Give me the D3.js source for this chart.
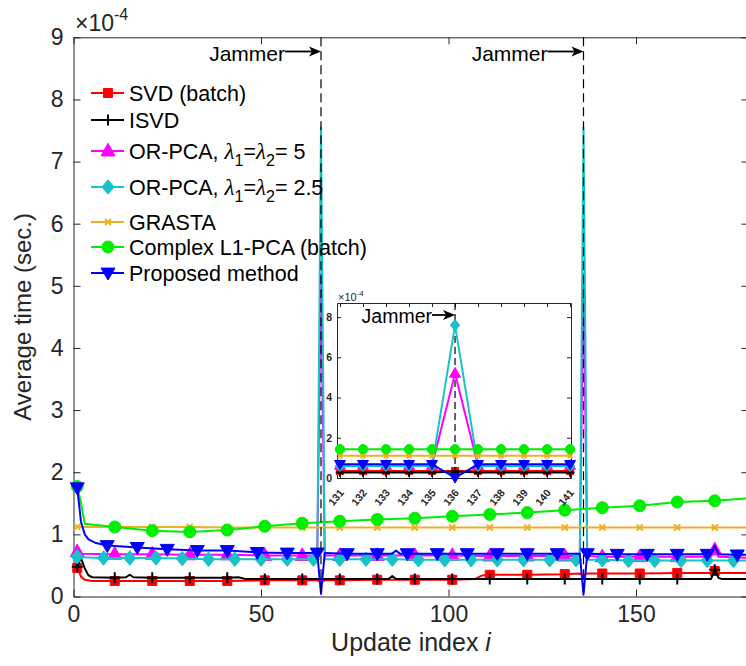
<!DOCTYPE html>
<html>
<head>
<meta charset="utf-8">
<script src="https://cdn.jsdelivr.net/npm/d3@7"></script>
<style>
  body { margin: 0; background: #fff; }
  svg text { font-family: "Liberation Sans", Arial, sans-serif; }
</style>
</head>
<body>
<div id="chart"></div>
<script>
// values are in units of 1e-4 sec
const xTicks = [0, 50, 100, 150];
const yTicks = [0, 1, 2, 3, 4, 5, 6, 7, 8, 9];
const jammerIdx = [66, 136];

const every10 = [1, 11, 21, 31, 41, 51, 61, 71, 81, 91, 101, 111, 121, 131, 141, 151, 161, 171];
const every7 = [1, 8, 15, 22, 29, 36, 43, 50, 57, 64, 71, 78, 85, 92, 99, 106, 113, 120, 127, 134, 141, 148, 155, 162, 169, 176];
const every8 = [1, 9, 17, 25, 33, 41, 49, 57, 65, 73, 81, 89, 97, 105, 113, 121, 129, 137, 145, 153, 161, 169, 177];

const svdData = [[1,0.46],[2,0.32],[3,0.27],[5,0.25],[11,0.25],[21,0.25],[31,0.25],[41,0.25],[51,0.26],[61,0.26],[65,0.26],[66,0.23],[67,0.26],[71,0.26],[81,0.27],[91,0.27],[101,0.27],[107,0.28],[109,0.34],[111,0.35],[121,0.35],[131,0.36],[135,0.37],[136,0.34],[137,0.37],[141,0.37],[151,0.37],[161,0.38],[170,0.38],[171,0.41],[172,0.38],[180,0.38]];
const isvdData = [[1,0.48],[2,0.62],[3,0.45],[4,0.34],[5,0.31],[11,0.30],[14,0.31],[15,0.35],[16,0.31],[21,0.30],[31,0.30],[41,0.30],[44,0.31],[46,0.28],[51,0.28],[61,0.28],[71,0.28],[81,0.28],[84,0.28],[85,0.33],[86,0.28],[91,0.28],[101,0.28],[111,0.28],[121,0.28],[131,0.28],[141,0.28],[151,0.28],[161,0.28],[170,0.28],[171,0.43],[172,0.30],[173,0.28],[180,0.28]];
const orpca5Data = [[1,0.72],[2,0.69],[11,0.68],[21,0.68],[31,0.67],[41,0.67],[51,0.66],[61,0.66],[65,0.66],[66,5.2],[67,0.66],[71,0.66],[81,0.66],[91,0.66],[101,0.66],[111,0.65],[121,0.65],[131,0.65],[135,0.65],[136,5.2],[137,0.65],[141,0.64],[151,0.64],[161,0.64],[170,0.64],[171,0.75],[172,0.64],[180,0.62]];
const orpca25Data = [[1,0.64],[2,0.63],[8,0.62],[15,0.62],[22,0.62],[29,0.61],[36,0.60],[43,0.60],[50,0.60],[57,0.60],[64,0.60],[65,0.60],[66,7.55],[67,0.60],[71,0.60],[78,0.60],[85,0.60],[92,0.59],[99,0.59],[106,0.59],[113,0.59],[120,0.59],[127,0.59],[134,0.59],[135,0.59],[136,7.55],[137,0.59],[141,0.59],[148,0.58],[155,0.58],[162,0.58],[169,0.58],[176,0.58],[180,0.58]];
const grastaData = [[1,1.12],[11,1.12],[21,1.12],[31,1.12],[41,1.11],[51,1.11],[61,1.11],[71,1.11],[81,1.11],[91,1.11],[101,1.11],[111,1.11],[121,1.11],[131,1.11],[141,1.11],[151,1.11],[161,1.11],[171,1.11],[180,1.11]];
const l1pcaData = [[1,1.77],[2,1.50],[3,1.17],[11,1.12],[21,1.06],[31,1.04],[41,1.07],[51,1.13],[61,1.18],[71,1.21],[81,1.24],[91,1.26],[101,1.29],[111,1.32],[121,1.35],[131,1.39],[141,1.43],[151,1.46],[161,1.52],[171,1.54],[180,1.58]];
const proposedData = [[1,1.75],[2,1.20],[3,1.00],[4,0.92],[6,0.86],[9,0.82],[17,0.79],[25,0.76],[33,0.74],[41,0.74],[49,0.71],[57,0.70],[65,0.70],[66,0.04],[67,0.70],[73,0.69],[81,0.69],[85,0.69],[86,0.74],[87,0.69],[89,0.69],[97,0.69],[105,0.69],[113,0.69],[121,0.69],[129,0.69],[135,0.69],[136,0.03],[137,0.69],[145,0.68],[153,0.68],[161,0.68],[169,0.68],[170,0.70],[171,0.82],[172,0.68],[177,0.67],[180,0.67]];

// inset (zoom around the second jammer)
const insetIdx = [131, 132, 133, 134, 135, 136, 137, 138, 139, 140, 141];
const insetYTicks = [0, 2, 4, 6, 8];
const insetSvd = [0.35, 0.35, 0.35, 0.35, 0.35, 0.35, 0.35, 0.35, 0.35, 0.35, 0.35];
const insetIsvd = [0.27, 0.27, 0.27, 0.27, 0.27, 0.32, 0.27, 0.27, 0.27, 0.27, 0.27];
const insetOrpca5 = [0.62, 0.62, 0.62, 0.62, 0.62, 5.2, 0.62, 0.62, 0.62, 0.62, 0.62];
const insetOrpca25 = [0.6, 0.6, 0.6, 0.6, 0.6, 7.6, 0.6, 0.6, 0.6, 0.6, 0.6];
const insetGrasta = [1.1, 1.1, 1.1, 1.1, 1.1, 1.1, 1.1, 1.1, 1.1, 1.1, 1.1];
const insetL1pca = [1.43, 1.43, 1.43, 1.43, 1.43, 1.43, 1.43, 1.43, 1.43, 1.43, 1.43];
const insetProposed = [0.68, 0.68, 0.68, 0.68, 0.68, 0.02, 0.68, 0.68, 0.68, 0.68, 0.68];

const legendLabels = ["SVD (batch)", "ISVD", "OR-PCA, λ_1=λ_2= 5", "OR-PCA, λ_1=λ_2= 2.5", "GRASTA", "Complex L1-PCA (batch)", "Proposed method"];

const series = [
  { label: legendLabels[0], color: "#ff0000", marker: "square", size: 9, data: svdData, marks: every10, inset: insetSvd },
  { label: legendLabels[1], color: "#000000", marker: "plus", size: 11, data: isvdData, marks: every10, inset: insetIsvd },
  { label: legendLabels[2], color: "#ff00ff", marker: "triUp", size: 14, data: orpca5Data, marks: every10, inset: insetOrpca5 },
  { label: legendLabels[3], color: "#17c3c8", marker: "diamond", size: 12, data: orpca25Data, marks: every7, inset: insetOrpca25 },
  { label: legendLabels[4], color: "#edb120", marker: "cross", size: 6, data: grastaData, marks: every10, inset: insetGrasta },
  { label: legendLabels[5], color: "#00ee00", marker: "circle", size: 12, data: l1pcaData, marks: every10, inset: insetL1pca },
  { label: legendLabels[6], color: "#0000ff", marker: "triDown", size: 14, data: proposedData, marks: every8, inset: insetProposed }
];

const markerPath = {
  square: s => `M${-s/2},${-s/2}h${s}v${s}h${-s}Z`,
  plus: s => `M${-s/2},0H${s/2}M0,${-s/2}V${s/2}`,
  triUp: s => `M0,${-s*0.55}L${s/2},${s*0.35}L${-s/2},${s*0.35}Z`,
  diamond: s => `M0,${-s*0.6}L${s/2},0L0,${s*0.6}L${-s/2},0Z`,
  cross: s => `M${-s/2},${-s/2}L${s/2},${s/2}M${s/2},${-s/2}L${-s/2},${s/2}`,
  circle: s => d3.symbol(d3.symbolCircle, Math.PI * s * s / 4)(),
  triDown: s => `M0,${s*0.5}L${s/2},${-s*0.35}L${-s/2},${-s*0.35}Z`
};
const strokeOnly = { plus: true, cross: true };

const width = 746, height = 666;
const axisColor = "#262626";

const svg = d3.select("#chart").append("svg")
  .attr("width", width).attr("height", height);

const x = d3.scaleLinear().domain([0, 180]).range([73.5, 748.5]);
const y = d3.scaleLinear().domain([0, 9]).range([596.5, 37.3]);

svg.append("defs").append("clipPath").attr("id", "plotclip")
  .append("rect")
  .attr("x", x(0)).attr("y", y(9))
  .attr("width", x(180) - x(0)).attr("height", y(0) - y(9));

function drawMarkers(g, s, pts, scale) {
  g.selectAll(null).data(pts).enter().append("path")
    .attr("transform", d => `translate(${d[0]},${d[1]})`)
    .attr("d", markerPath[s.marker](s.size * scale))
    .attr("fill", strokeOnly[s.marker] ? "none" : s.color)
    .attr("stroke", s.color)
    .attr("stroke-width", strokeOnly[s.marker] ? 2 : 1);
}

// axes
function styleAxis(g) {
  g.select(".domain").attr("stroke", axisColor);
  g.selectAll(".tick line").attr("stroke", axisColor);
  g.selectAll(".tick text").attr("fill", axisColor)
    .style("font-family", "Liberation Sans, Arial, sans-serif");
}

svg.append("g").attr("transform", `translate(0,${y(0)})`)
  .call(d3.axisBottom(x).tickValues(xTicks).tickSizeInner(-7).tickSizeOuter(0).tickPadding(9))
  .call(styleAxis)
  .call(g => g.selectAll(".tick text").attr("font-size", 23));
svg.append("g").attr("transform", `translate(0,${y(9)})`)
  .call(d3.axisTop(x).tickValues(xTicks).tickSizeInner(-7).tickSizeOuter(0).tickFormat(""))
  .call(styleAxis);
svg.append("g").attr("transform", `translate(${x(0)},0)`)
  .call(d3.axisLeft(y).tickValues(yTicks).tickSizeInner(-7).tickSizeOuter(0).tickPadding(10))
  .call(styleAxis)
  .call(g => g.selectAll(".tick text").attr("font-size", 23));
svg.append("g").attr("transform", `translate(${x(180)},0)`)
  .call(d3.axisRight(y).tickValues(yTicks).tickSizeInner(-7).tickSizeOuter(0).tickFormat(""))
  .call(styleAxis);

// exponent label
const expo = svg.append("text").attr("x", 75).attr("y", 31)
  .attr("font-size", 23).attr("fill", axisColor);
expo.append("tspan").text("×10");
expo.append("tspan").attr("dy", -11).attr("font-size", 16).text("-4");

// axis titles
svg.append("text")
  .attr("transform", `translate(31,${(y(0) + y(9)) / 2}) rotate(-90)`)
  .attr("text-anchor", "middle").attr("font-size", 24).attr("fill", axisColor)
  .text("Average time (sec.)");
const xt = svg.append("text")
  .attr("x", (x(0) + x(180)) / 2).attr("y", 651)
  .attr("text-anchor", "middle").attr("font-size", 25).attr("fill", axisColor);
xt.append("tspan").text("Update index ");
xt.append("tspan").attr("font-style", "italic").text("i");

// data lines and markers
const line = d3.line().x(d => x(d[0])).y(d => y(d[1]));
const plot = svg.append("g");
series.forEach(s => {
  plot.append("path").datum(s.data)
    .attr("clip-path", "url(#plotclip)")
    .attr("d", line)
    .attr("fill", "none").attr("stroke", s.color).attr("stroke-width", 2)
    .attr("stroke-linejoin", "round");
  const lookup = new Map(s.data.map(d => [d[0], d[1]]));
  const pts = s.marks.filter(i => lookup.has(i)).map(i => [x(i), y(lookup.get(i))]);
  drawMarkers(plot, s, pts, 1);
});

// jammer markers
function arrow(g, tx, ty, len) {
  g.append("line").attr("x1", tx - len).attr("x2", tx - 6).attr("y1", ty).attr("y2", ty)
    .attr("stroke", "#000").attr("stroke-width", 1.8);
  g.append("path")
    .attr("d", `M${tx},${ty}L${tx - 12},${ty - 5}L${tx - 9},${ty}L${tx - 12},${ty + 5}Z`)
    .attr("fill", "#000");
}
jammerIdx.forEach(j => {
  svg.append("line")
    .attr("x1", x(j)).attr("x2", x(j)).attr("y1", y(9)).attr("y2", y(0))
    .attr("stroke", "#000").attr("stroke-width", 1.2).attr("stroke-dasharray", "9,5");
  svg.append("text").attr("x", x(j) - 36).attr("y", 61)
    .attr("text-anchor", "end").attr("font-size", 21).attr("fill", "#000")
    .text("Jammer");
  arrow(svg, x(j), 51.5, 36);
});

// legend
function richLabel(textSel, label) {
  const parts = label.split(/(λ_\d)/);
  let shift = 0;
  parts.forEach(p => {
    const m = p.match(/^λ_(\d)$/);
    if (m) {
      textSel.append("tspan").attr("dy", shift || null)
        .attr("font-family", "Liberation Serif, serif")
        .attr("font-style", "italic").attr("font-size", 23).text("λ");
      textSel.append("tspan").attr("dy", 7).attr("font-size", 16).text(m[1]);
      shift = -7;
    } else if (p.length) {
      textSel.append("tspan").attr("dy", shift || null).text(p);
      shift = 0;
    }
  });
}
const legendY = [93, 120, 151, 187, 222, 247, 273];
const legend = svg.append("g");
series.forEach((s, k) => {
  const ly = legendY[k];
  legend.append("line").attr("x1", 91).attr("x2", 124).attr("y1", ly).attr("y2", ly)
    .attr("stroke", s.color).attr("stroke-width", 2);
  drawMarkers(legend, s, [[108, ly]], 1);
  const t = legend.append("text").attr("x", 129).attr("y", ly + 7.5)
    .attr("font-size", 21.5).attr("fill", "#000");
  richLabel(t, s.label);
});

// inset
const ix = d3.scaleLinear().domain([130.87, 141.04]).range([337, 571]);
const iy = d3.scaleLinear().domain([0, 8.7]).range([478, 303]);
const inset = svg.append("g");
inset.append("rect").attr("x", ix.range()[0]).attr("y", iy.range()[1])
  .attr("width", ix.range()[1] - ix.range()[0]).attr("height", iy.range()[0] - iy.range()[1])
  .attr("fill", "#fff");

function styleInset(g) {
  styleAxis(g);
  g.selectAll(".tick text").attr("font-size", 10.5).attr("font-weight", "bold");
}
inset.append("g").attr("transform", `translate(0,${iy(0)})`)
  .call(d3.axisBottom(ix).tickValues(insetIdx).tickSizeInner(-4).tickSizeOuter(0).tickFormat(d3.format("d")))
  .call(styleInset)
  .call(g => g.selectAll(".tick text")
    .attr("text-anchor", "end").attr("dy", null).attr("y", 0)
    .attr("transform", "translate(4,15) rotate(-50)"));
inset.append("g").attr("transform", `translate(0,${iy.range()[1]})`)
  .call(d3.axisTop(ix).tickValues(insetIdx).tickSizeInner(-4).tickSizeOuter(0).tickFormat(""))
  .call(styleAxis);
inset.append("g").attr("transform", `translate(${ix.range()[0]},0)`)
  .call(d3.axisLeft(iy).tickValues(insetYTicks).tickSizeInner(-4).tickSizeOuter(0).tickPadding(5))
  .call(styleInset);
inset.append("g").attr("transform", `translate(${ix.range()[1]},0)`)
  .call(d3.axisRight(iy).tickValues(insetYTicks).tickSizeInner(-4).tickSizeOuter(0).tickFormat(""))
  .call(styleAxis);

const iexpo = inset.append("text").attr("x", 338).attr("y", 301)
  .attr("font-size", 11).attr("fill", axisColor);
iexpo.append("tspan").text("×10");
iexpo.append("tspan").attr("dy", -5).attr("font-size", 8).text("-4");

inset.append("line")
  .attr("x1", ix(136)).attr("x2", ix(136)).attr("y1", iy.range()[1]).attr("y2", iy(0))
  .attr("stroke", "#000").attr("stroke-width", 1.2).attr("stroke-dasharray", "7,4");

const iline = d3.line().x((d, k) => ix(insetIdx[k])).y(d => iy(d));
series.forEach(s => {
  inset.append("path").datum(s.inset)
    .attr("d", iline)
    .attr("fill", "none").attr("stroke", s.color).attr("stroke-width", 2)
    .attr("stroke-linejoin", "round");
  drawMarkers(inset, s, s.inset.map((v, k) => [ix(insetIdx[k]), iy(v)]), 0.78);
});

inset.append("text").attr("x", ix(136) - 23).attr("y", 323)
  .attr("text-anchor", "end").attr("font-size", 19.5).attr("fill", "#000")
  .text("Jammer");
arrow(inset, ix(136), 315, 23);
</script>
</body>
</html>
